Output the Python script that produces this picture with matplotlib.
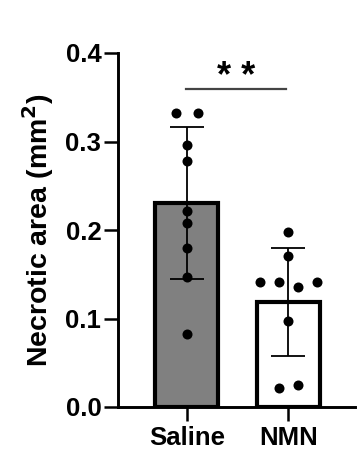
import matplotlib.pyplot as plt
import numpy as np

plt.rcParams['font.family'] = ['Liberation Sans', 'DejaVu Sans']
plt.rcParams['font.weight'] = 'bold'

groups = ["Saline", "NMN"]
saline = [0.332, 0.332, 0.296, 0.278, 0.222, 0.208, 0.180, 0.147, 0.082]
nmn = [0.198, 0.171, 0.141, 0.141, 0.136, 0.141, 0.097, 0.021, 0.025]
saline_x = [-0.11, 0.11, 0, 0, 0, 0, 0, 0, 0]
nmn_x = [0, 0, -0.28, -0.094, 0.094, 0.28, 0, -0.094, 0.094]
bar_colors = ["#808080", "white"]

fig = plt.figure(figsize=(3.61, 4.70), dpi=100)
ax = fig.add_axes([118 / 361, 1 - 407 / 470, (355 - 118) / 361, (407 - 53) / 470])

data = [saline, nmn]
xs = [saline_x, nmn_x]
for i, vals in enumerate(data):
    m = np.mean(vals)
    sd = np.std(vals, ddof=1)
    ax.bar(i, m, width=0.62, color=bar_colors[i], edgecolor="black", linewidth=3, zorder=1)
    ax.errorbar(i, m, yerr=sd, color="black", capsize=12, elinewidth=1.3,
                capthick=1.3, zorder=2)
    ax.scatter(np.array(xs[i]) + i, vals, s=52, color="black", zorder=3, linewidths=0)

# significance
ax.plot([-0.01, 0.98], [0.359, 0.359], color="#444444", lw=1.6, clip_on=False)
ax.text(0.485, 0.362, "* *", ha="center", va="baseline", fontsize=26, fontweight="bold")

ax.set_xlim(-0.68, 1.66)
ax.set_ylim(0, 0.4)
ax.set_yticks([0, 0.1, 0.2, 0.3, 0.4])
ax.set_yticklabels(["0.0", "0.1", "0.2", "0.3", "0.4"])
ax.set_xticks([0, 1])
ax.set_xticklabels(groups)
ax.tick_params(axis="both", width=1.8, length=10, labelsize=18.5, pad=2)
ax.tick_params(axis="x", pad=4)
ax.spines["top"].set_visible(False)
ax.spines["right"].set_visible(False)
ax.spines["left"].set_linewidth(2.1)
ax.spines["bottom"].set_linewidth(2.1)
ax.set_ylabel("Necrotic area (mm$^\\mathbf{2}$)", fontsize=20.5, fontweight="bold", labelpad=7)

fig.savefig("out.png", dpi=100)
